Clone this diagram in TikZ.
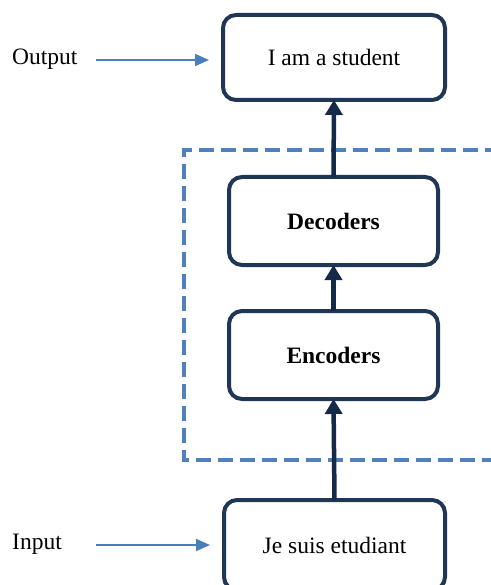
\documentclass[tikz,border=0pt]{standalone}
\usepackage{fontspec}
\setmainfont{Liberation Serif}
\usetikzlibrary{arrows.meta}
\definecolor{boxnavy}{HTML}{1F3654}
\definecolor{arrownavy}{HTML}{15294A}
\definecolor{dashblue}{HTML}{4F81BD}
\definecolor{linkblue}{HTML}{4A7EBB}
\begin{document}
\begin{tikzpicture}[x=1pt,y=-1pt,
  stagebox/.style={draw=boxnavy, line width=4pt, rounded corners=13pt, fill=white,
    inner sep=0pt, outer sep=0pt, font=\fontsize{23.5}{28}\selectfont},
  flow/.style={draw=arrownavy, line width=4.5pt,
    -{Triangle[length=15pt,width=17pt]}},
  pointer/.style={draw=linkblue, line width=2pt,
    -{Triangle[length=14pt,width=12pt]}},
  sidelabel/.style={inner sep=0pt, font=\fontsize{23.5}{28}\selectfont},
  group/.style={draw=dashblue, line width=3.5pt, dash pattern=on 15pt off 7pt}]
  \useasboundingbox (0,0) rectangle (490,585);

  % dashed frame round the encoder/decoder stack
  \draw[group] (500,150) -- (184,150) -- (184,460) -- (500,460);

  % stages
  \node[stagebox, minimum width=222pt, minimum height=85pt] (out) at (334,57.5) {I am a student};
  \node[stagebox, minimum width=209pt, minimum height=88pt] (dec) at (333.5,221) {\bfseries Decoders};
  \node[stagebox, minimum width=209pt, minimum height=88pt] (enc) at (333.5,355) {\bfseries Encoders};
  \node[stagebox, minimum width=221pt, minimum height=90pt] (inp) at (334.5,545) {Je suis etudiant};

  % flow through the stack
  \draw[flow] (inp.north) -- (enc.south);
  \draw[flow] (enc.north) -- (dec.south);
  \draw[flow] (dec.north) -- (out.north |- out.south);

  % side labels and their pointers
  \node[sidelabel, anchor=base west] (outlbl) at (12,65) {Output};
  \node[sidelabel, anchor=base west] (inlbl) at (12,549) {Input};
  \coordinate (outtail) at (96,60);
  \coordinate (intail) at (96,545);
  \draw[pointer, shorten >=14pt] (outtail) -- (outtail -| out.west);
  \draw[pointer, shorten >=14pt] (intail) -- (intail -| inp.west);
\end{tikzpicture}
\end{document}
